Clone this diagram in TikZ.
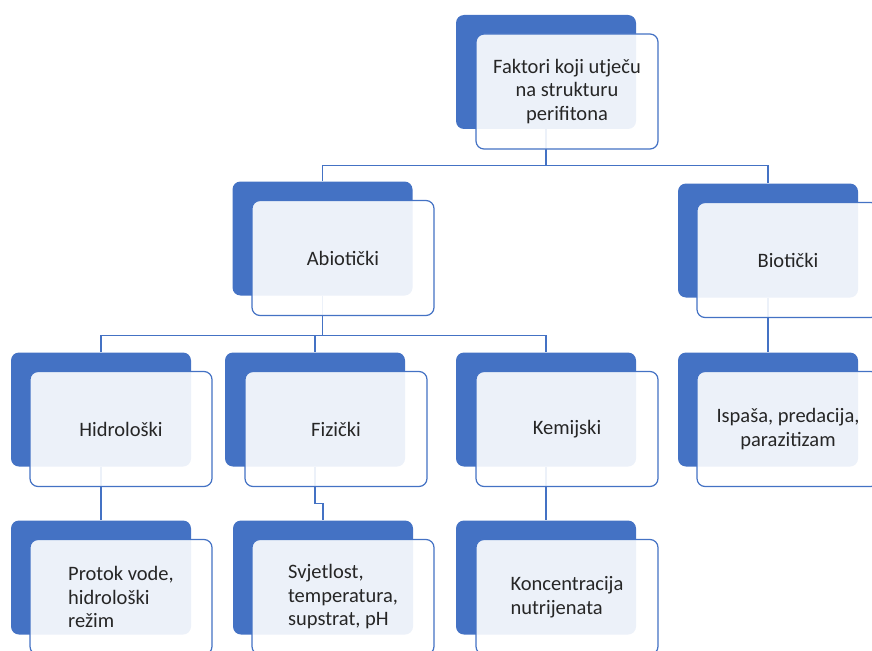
\documentclass[tikz,border=0pt]{standalone}
\usepackage{fontspec}
\setmainfont{Carlito}
\usetikzlibrary{positioning,backgrounds}
\definecolor{accent}{HTML}{4472C4}
\definecolor{ink}{HTML}{262626}

\begin{document}
\begin{tikzpicture}[
        x=1pt, y=-1pt,
        back/.style={fill=accent, rounded corners=8pt, minimum width=180pt, minimum height=114pt, inner sep=0pt},
        front/.style={draw=accent, line width=1.2pt, fill=white, fill opacity=0.9, text opacity=1, text=ink,
            rounded corners=8pt, minimum width=182pt, minimum height=115pt, align=center,
            font=\fontsize{20.5}{23.5}\selectfont},
        link/.style={draw=accent, line width=1.2pt}]
        
        \useasboundingbox (0,0) rectangle (872,650);
        
        \node[back] (Tb) at (546,72) {};
        \node[front] (T) at (567,91.5) {Faktori koji utječu\\na strukturu\\perifitona};
        
        \node[back] (Ab) at (322.5,238.5) {};
        \node[front] (A) at (343,258) {Abiotički};
        \node[back] (Bb) at (768,240.5) {};
        \node[front] (B) at (788,260) {Biotički};
        
        \node[back] (Hb) at (101,409.5) {};
        \node[front] (H) at (121,429) {Hidrološki};
        \node[back] (Fb) at (315,409.5) {};
        \node[front] (F) at (336,429) {Fizički};
        \node[back] (Kb) at (546,409.5) {};
        \node[front] (K) at (567,429) {Kemijski};
        \node[back] (Ib) at (768,409.5) {};
        \node[front] (I) at (788,429) {Ispaša, predacija,\\parazitizam};
        
        \node[back] (Pb) at (101,577.5) {};
        \node[front, align=left] (P) at (121,597) {Protok vode,\\hidrološki\\režim};
        \node[back] (Sb) at (323,577.5) {};
        \node[front, align=left] (S) at (343,597) {Svjetlost,\\temperatura,\\supstrat, pH};
        \node[back] (Nb) at (546,577.5) {};
        \node[front, align=left] (N) at (567,597) {Koncentracija\\nutrijenata};
        
        \begin{scope}[on background layer]
        \draw[link] (Tb.south) -- ++(0,36) -| (Ab.north);
        \draw[link] (Tb.south) -- ++(0,36) -| (Bb.north);
        \draw[link] (Ab.south) -- ++(0,40) -| (Hb.north);
        \draw[link] (Ab.south) -- ++(0,40) -| (Fb.north);
        \draw[link] (Ab.south) -- ++(0,40) -| (Kb.north);
        \draw[link] (Bb.south) -- (Ib.north);
        \draw[link] (Hb.south) -- (Pb.north);
        \draw[link] (Fb.south) -- ++(0,37) -| (Sb.north);
        \draw[link] (Kb.south) -- (Nb.north);
        \end{scope}
        
    \end{tikzpicture}
\end{document}
